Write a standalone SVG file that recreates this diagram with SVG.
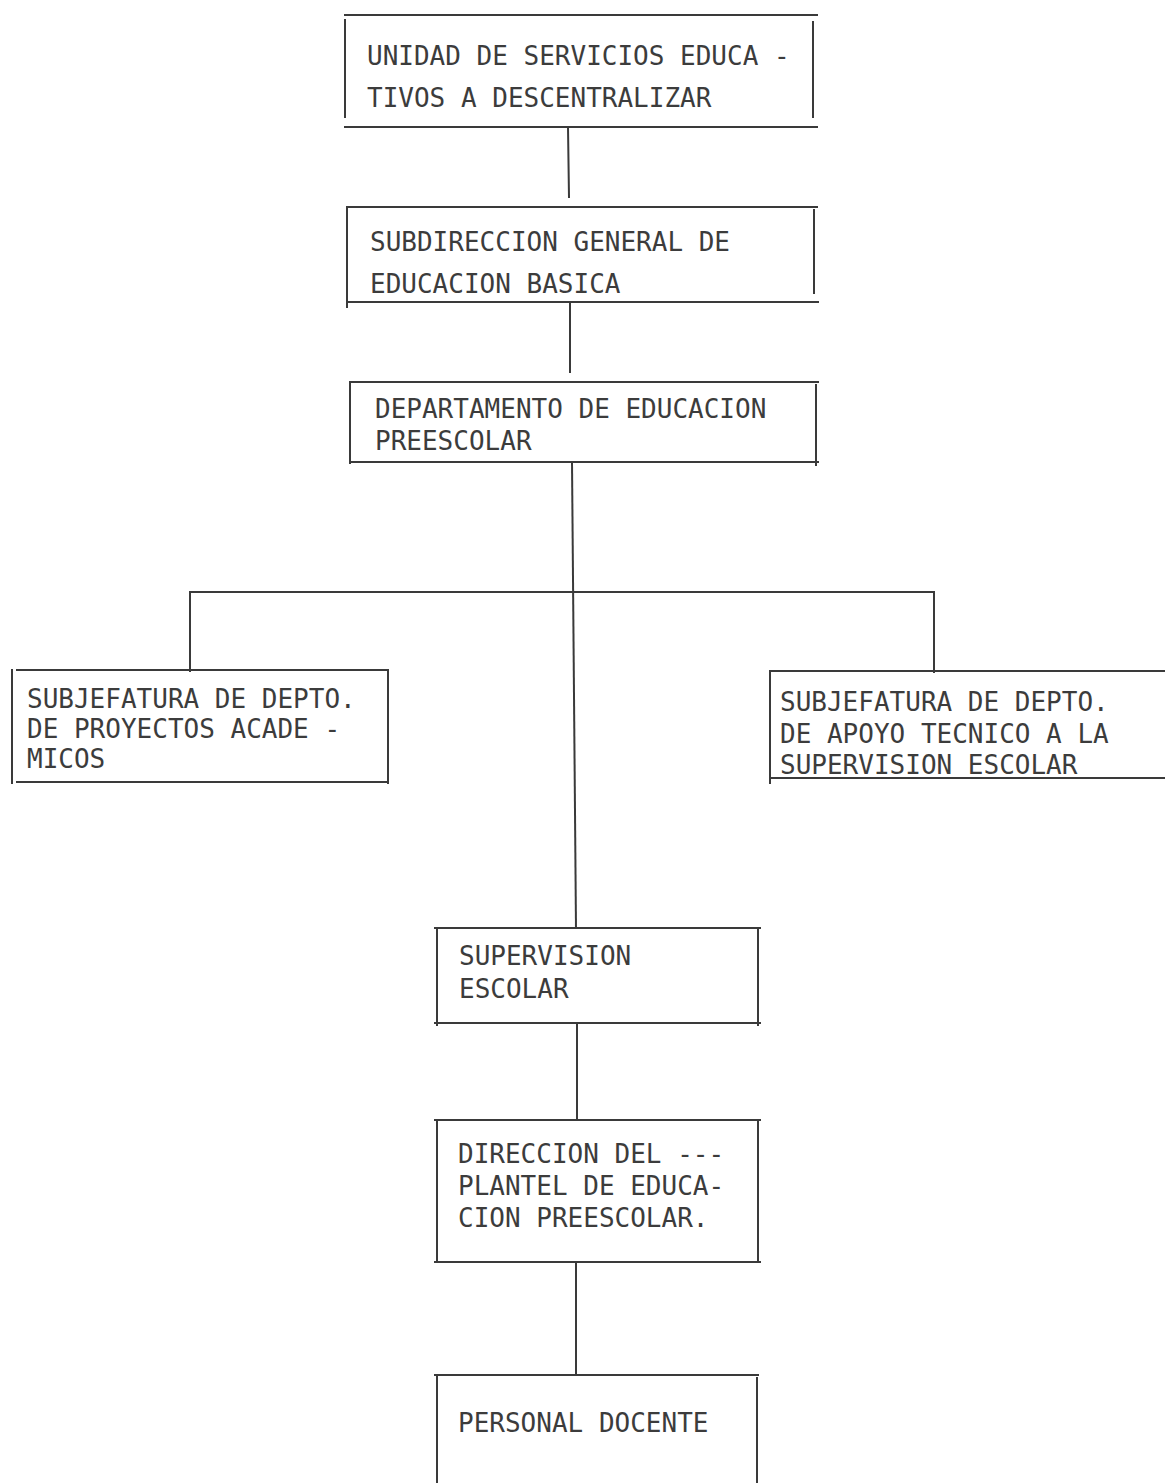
<svg xmlns="http://www.w3.org/2000/svg" width="1165" height="1483" viewBox="0 0 1165 1483">
<style>
.ln{stroke:#3a3a3a;stroke-width:2;fill:none;stroke-linecap:square}
.t{font-family:"DejaVu Sans Mono","Liberation Mono",monospace;font-size:26px;fill:#3c3c3c}
</style>
<rect width="1165" height="1483" fill="#ffffff"/>
<g id="connectors" class="ln">
<line x1="568" y1="127" x2="569" y2="197"/>
<line x1="570" y1="302" x2="570" y2="372"/>
<line x1="572" y1="462" x2="576" y2="928"/>
<line x1="190" y1="592" x2="934" y2="592"/>
<line x1="190" y1="592" x2="190" y2="671"/>
<line x1="934" y1="592" x2="934" y2="672"/>
<line x1="577" y1="1023" x2="577" y2="1120"/>
<line x1="576" y1="1262" x2="576" y2="1375"/>
</g>
<g id="n1">
<path class="ln" d="M345 15H817M345 20V117M813 22V117M345 127H817"/>
<text class="t" x="367" y="65">UNIDAD DE SERVICIOS EDUCA -</text>
<text class="t" x="367" y="107">TIVOS A DESCENTRALIZAR</text>
</g>
<g id="n2">
<path class="ln" d="M347 207H817M347 207V307M814 210V293M347 302H818"/>
<text class="t" x="370" y="251">SUBDIRECCION GENERAL DE</text>
<text class="t" x="370" y="293">EDUCACION BASICA</text>
</g>
<g id="n3">
<path class="ln" d="M350 382H818M350 382V463M816 385V465M350 462H818"/>
<text class="t" x="375" y="418">DEPARTAMENTO DE EDUCACION</text>
<text class="t" x="375" y="450">PREESCOLAR</text>
</g>
<g id="n4">
<path class="ln" d="M17 670H388M12 670V783M388 672V783M17 782H388"/>
<text class="t" x="27" y="708">SUBJEFATURA DE DEPTO.</text>
<text class="t" x="27" y="738">DE PROYECTOS ACADE -</text>
<text class="t" x="27" y="768">MICOS</text>
</g>
<g id="n5">
<path class="ln" d="M770 671H1165M770 671V783M770 778H1165"/>
<text class="t" x="780" y="711">SUBJEFATURA DE DEPTO.</text>
<text class="t" x="780" y="743">DE APOYO TECNICO A LA</text>
<text class="t" x="780" y="774">SUPERVISION ESCOLAR</text>
</g>
<g id="n6">
<path class="ln" d="M435 928H760M437 928V1025M758 930V1025M435 1023H760"/>
<text class="t" x="459" y="965">SUPERVISION</text>
<text class="t" x="459" y="998">ESCOLAR</text>
</g>
<g id="n7">
<path class="ln" d="M435 1120H760M437 1120V1262M758 1122V1262M435 1262H760"/>
<text class="t" x="458" y="1163">DIRECCION DEL ---</text>
<text class="t" x="458" y="1195">PLANTEL DE EDUCA-</text>
<text class="t" x="458" y="1227">CION PREESCOLAR.</text>
</g>
<g id="n8">
<path class="ln" d="M435 1375H758M437 1375V1483M757 1378V1483"/>
<text class="t" x="458" y="1432">PERSONAL DOCENTE</text>
</g>
</svg>
